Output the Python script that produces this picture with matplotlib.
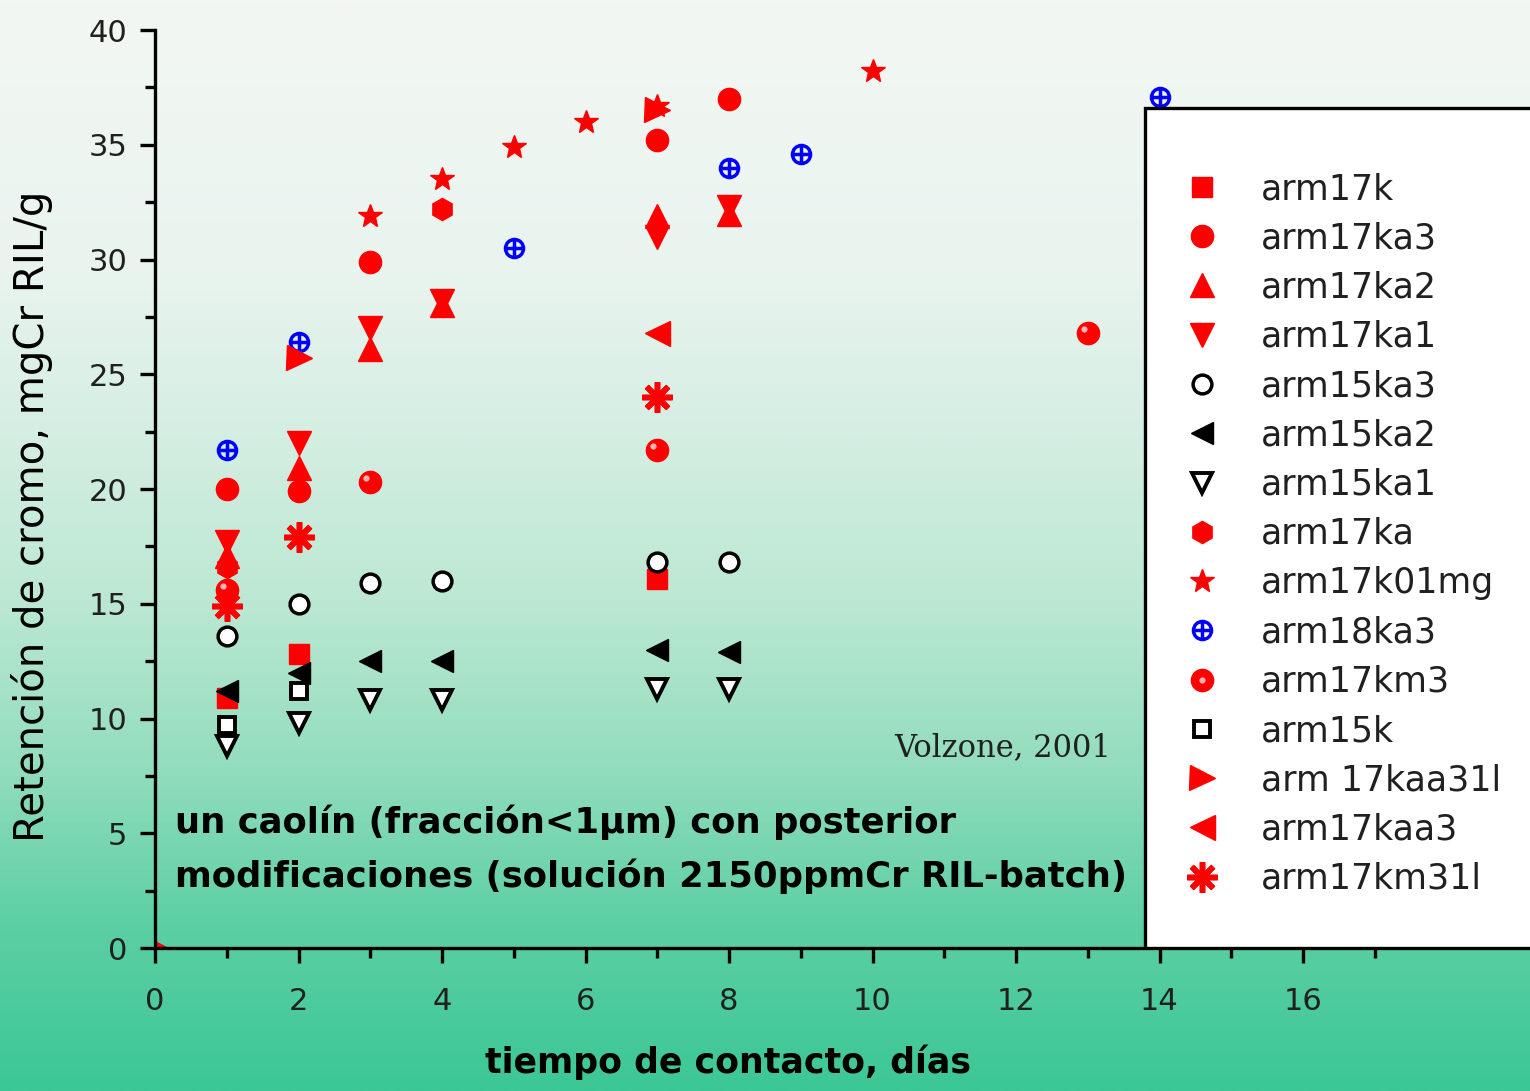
import numpy as np
import matplotlib
matplotlib.use("Agg")
import matplotlib.pyplot as plt
from matplotlib.path import Path
from matplotlib.patches import Rectangle
from matplotlib.colors import LinearSegmentedColormap
from matplotlib.legend_handler import HandlerTuple
from matplotlib.transforms import ScaledTranslation

plt.rcParams['font.family'] = ['DejaVu Sans']

# ---------------- data ----------------
labels = ["arm17k", "arm17ka3", "arm17ka2", "arm17ka1", "arm15ka3", "arm15ka2",
          "arm15ka1", "arm17ka", "arm17k01mg", "arm18ka3", "arm17km3", "arm15k",
          "arm 17kaa31l", "arm17kaa3", "arm17km31l"]

arm17k_x = [1, 2, 7]
arm17k_y = [10.9, 12.8, 16.1]
arm17ka3_x = [1, 2, 3, 7, 8]
arm17ka3_y = [20.0, 19.9, 29.9, 35.2, 37.0]
arm17ka2_x = [1, 2, 3, 4, 7, 8]
arm17ka2_y = [17.1, 20.9, 26.1, 28.0, 31.9, 32.0]
arm17ka1_x = [1, 2, 3, 4, 7, 8]
arm17ka1_y = [17.7, 22.0, 27.0, 28.2, 31.0, 32.3]
arm15ka3_x = [1, 2, 3, 4, 7, 8]
arm15ka3_y = [13.6, 15.0, 15.9, 16.0, 16.8, 16.8]
arm15ka2_x = [1, 2, 3, 4, 7, 8]
arm15ka2_y = [11.2, 12.0, 12.5, 12.5, 13.0, 12.9]
arm15ka1_x = [1, 2, 3, 4, 7, 8]
arm15ka1_y = [8.8, 9.8, 10.8, 10.8, 11.3, 11.3]
arm17ka_x = [1, 4]
arm17ka_y = [16.6, 32.2]
arm17k01mg_x = [3, 4, 5, 6, 7, 10]
arm17k01mg_y = [31.9, 33.5, 34.9, 36.0, 36.7, 38.2]
arm18ka3_x = [1, 2, 5, 8, 9, 14]
arm18ka3_y = [21.7, 26.4, 30.5, 34.0, 34.6, 37.1]
arm17km3_x = [1, 3, 7, 13]
arm17km3_y = [15.6, 20.3, 21.7, 26.8]
arm15k_x = [1, 2]
arm15k_y = [9.7, 11.2]
arm17kaa31l_x = [0, 2, 7]
arm17kaa31l_y = [0.0, 25.7, 36.5]
arm17kaa3_x = [7]
arm17kaa3_y = [26.8]
arm17km31l_x = [1, 2, 7]
arm17km31l_y = [14.9, 17.9, 24.0]

xticks = [0, 2, 4, 6, 8, 10, 12, 14, 16]
yticks = [0, 5, 10, 15, 20, 25, 30, 35, 40]

# ---------------- figure ----------------
W, H = 1530, 1091
fig = plt.figure(figsize=(W / 100, H / 100), dpi=100)

# gradient background
bg = fig.add_axes([0, 0, 1, 1], zorder=-10)
stops = [(0.0, (243, 247, 243)), (0.25, (233, 244, 239)), (0.40, (212, 238, 226)),
         (0.55, (188, 232, 211)), (0.70, (148, 221, 190)), (0.85, (92, 207, 164)),
         (1.0, (60, 199, 150))]
cmap = LinearSegmentedColormap.from_list(
    "bg", [(p, tuple(c / 255 for c in rgb)) for p, rgb in stops])
grad = np.linspace(0, 1, 512).reshape(-1, 1)
bg.imshow(grad, cmap=cmap, aspect='auto', extent=[0, 1, 1, 0])
bg.set_axis_off()

L = 155 / W
B = (H - 948) / H
T = (H - 30) / H
ax = fig.add_axes([L, B, 1 - L, T - B])
ax.patch.set_alpha(0)
ax.set_xlim(0, (W - 155) / 71.75)
ax.set_ylim(0, 40)

red = '#ff0000'
blue = '#0000ff'

crossed = Path.make_compound_path(Path.unit_circle(),
                                  Path([[-1, 0], [1, 0]]),
                                  Path([[0, -1], [0, 1]]))

handles = []
h = ax.plot(arm17k_x, arm17k_y, 's', color=red, ms=14, mec=red)[0]; handles.append(h)
h = ax.plot(arm17ka3_x, arm17ka3_y, 'o', color=red, ms=16, mec=red)[0]; handles.append(h)
h = ax.plot(arm17ka2_x, arm17ka2_y, '^', color=red, ms=17, mec=red)[0]; handles.append(h)
h = ax.plot(arm17ka1_x, arm17ka1_y, 'v', color=red, ms=17, mec=red)[0]; handles.append(h)
h = ax.plot(arm15ka3_x, arm15ka3_y, 'o', mfc='white', mec='black', mew=2.5, ms=13.5)[0]; handles.append(h)
h = ax.plot(arm15ka2_x, arm15ka2_y, '<', color='black', ms=16)[0]; handles.append(h)
h = ax.plot(arm15ka1_x, arm15ka1_y, 'v', mfc='white', mec='black', mew=2.8, ms=14)[0]; handles.append(h)
h = ax.plot(arm17ka_x, arm17ka_y, 'h', color=red, ms=16, mec=red)[0]; handles.append(h)
h = ax.plot(arm17k01mg_x, arm17k01mg_y, '*', color=red, ms=18, mec=red)[0]; handles.append(h)
h = ax.plot(arm18ka3_x, arm18ka3_y, marker=crossed, ls='none', mfc='none', mec=blue, mew=2.5, ms=13)[0]; handles.append(h)
h1 = ax.plot(arm17km3_x, arm17km3_y, 'o', color=red, ms=16, mec=red)[0]
hl = ax.plot(arm17km3_x, arm17km3_y, 'o', color='#ffb0b0', ms=4.5, mec='none',
             transform=ax.transData + ScaledTranslation(-3 / 72, 3 / 72, fig.dpi_scale_trans))[0]
handles.append((h1, hl))
h = ax.plot(arm15k_x, arm15k_y, 's', mfc='white', mec='black', mew=2.8, ms=11)[0]; handles.append(h)
h = ax.plot(arm17kaa31l_x, arm17kaa31l_y, '>', color=red, ms=18, mec=red)[0]; handles.append(h)
h = ax.plot(arm17kaa3_x, arm17kaa3_y, '<', color=red, ms=18, mec=red)[0]; handles.append(h)
h = ax.plot(arm17km31l_x, arm17km31l_y, marker=(8, 2, 0), ls='none', color=red, mec=red, mew=4, ms=22)[0]; handles.append(h)

# axes styling
for s in ['top', 'right']:
    ax.spines[s].set_visible(False)
for s in ['left', 'bottom']:
    ax.spines[s].set_linewidth(2.4)
    ax.spines[s].set_zorder(5)
ax.set_xticks(xticks)
ax.set_yticks(yticks)
ax.set_xticks(np.arange(1, 19, 2), minor=True)
ax.set_yticks(np.arange(2.5, 40, 5), minor=True)
ax.tick_params(which='major', direction='out', length=11, width=2.4,
               labelsize=22, colors='black', labelcolor='#202020')
ax.tick_params(axis='y', which='major', pad=9)
ax.tick_params(axis='x', which='major', pad=17)
ax.tick_params(which='minor', direction='out', length=7, width=2.4)

ax.set_ylabel("Retención de cromo, mgCr RIL/g", fontsize=29)
ax.yaxis.set_label_coords(-0.074, 0.47)
ax.set_xlabel("tiempo de contacto, días", fontsize=25, fontweight='bold')
ax.xaxis.set_label_coords(0.417, -0.105)

ax.text(0.0145, 0.137, "un caolín (fracción<1µm) con posterior", transform=ax.transAxes,
        fontsize=25.5, fontweight='bold', va='center', ha='left')
ax.text(0.0145, 0.078, "modificaciones (solución 2150ppmCr RIL-batch)", transform=ax.transAxes,
        fontsize=25.5, fontweight='bold', va='center', ha='left')
ax.text(0.538, 0.218, "Volzone, 2001", transform=ax.transAxes, family='DejaVu Serif',
        fontsize=22, va='center', ha='left', color='#202020')

# legend box
ax.add_patch(Rectangle((990 / 1375, 0), 0.4, (948 - 108) / 918, transform=ax.transAxes,
                       facecolor='white', edgecolor='black', lw=2.4, zorder=6))
leg = ax.legend(handles, labels, loc='upper left',
                bbox_to_anchor=((1186 - 155) / 1375, (948 - 172) / 918),
                frameon=False, fontsize=25, numpoints=1, handlelength=0.95,
                handletextpad=1.2, labelspacing=0.44, borderpad=0, borderaxespad=0,
                handler_map={tuple: HandlerTuple(ndivide=1)})
leg.set_zorder(7)
for t in leg.get_texts():
    t.set_color('#202020')

fig.savefig("out.png", dpi=100)
